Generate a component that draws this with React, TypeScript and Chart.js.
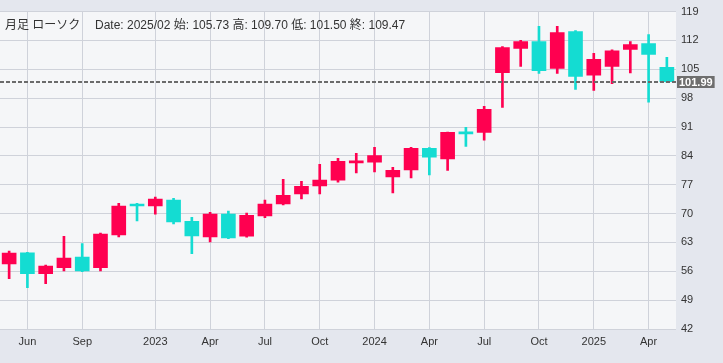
import { useEffect, useRef } from 'react';
import { Chart, registerables } from 'chart.js';

Chart.register(...registerables);

const categories = [
  '2022/05', '2022/06', '2022/07', '2022/08', '2022/09', '2022/10', '2022/11', '2022/12',
  '2023/01', '2023/02', '2023/03', '2023/04', '2023/05', '2023/06', '2023/07', '2023/08',
  '2023/09', '2023/10', '2023/11', '2023/12', '2024/01', '2024/02', '2024/03', '2024/04',
  '2024/05', '2024/06', '2024/07', '2024/08', '2024/09', '2024/10', '2024/11', '2024/12',
  '2025/01', '2025/02', '2025/03', '2025/04', '2025/05',
];

const openValues = [
  57.8, 60.5, 55.4, 56.85, 59.45, 56.85, 64.8, 72.3,
  71.85, 73.25, 68.15, 64.35, 69.85, 64.5, 69.45, 72.35,
  74.75, 76.7, 78.1, 82.3, 82.5, 78.9, 80.6, 85.8,
  83.25, 89.6, 89.7, 104.2, 110.05, 111.75, 105.2, 114.15,
  103.6, 105.73, 109.8, 111.25, 105.45,
];
const highValues = [
  60.9, 60.6, 57.5, 64.5, 62.75, 65.3, 72.5, 72.5,
  74.0, 73.7, 69.1, 70.3, 70.6, 70.1, 73.25, 78.3,
  77.85, 81.95, 83.4, 84.6, 86.1, 81.2, 86.1, 86.0,
  89.8, 90.9, 96.0, 110.5, 112.0, 115.4, 115.4, 114.4,
  108.85, 109.7, 111.75, 113.4, 107.9,
];
const lowValues = [
  54.2, 52.0, 53.0, 56.1, 55.9, 56.1, 64.35, 68.2,
  69.85, 67.5, 60.25, 63.15, 63.9, 64.3, 69.0, 72.1,
  73.55, 74.75, 77.6, 79.85, 80.1, 75.0, 78.65, 79.4,
  80.5, 86.3, 87.8, 95.75, 105.7, 104.0, 104.0, 100.1,
  99.9, 101.5, 104.1, 97.05, 101.85,
];
const closeValues = [
  60.4, 55.4, 57.25, 59.2, 56.1, 65.0, 71.8, 71.85,
  73.5, 68.0, 64.6, 69.85, 64.1, 69.6, 72.3, 74.45,
  76.6, 78.1, 82.7, 82.4, 84.1, 80.5, 85.8, 83.7,
  89.7, 89.35, 95.3, 110.3, 111.75, 104.7, 113.9, 103.25,
  107.4, 109.47, 111.0, 108.6, 101.99,
];

const tickCategories = ['2022/06', '2022/09', '2023/01', '2023/04', '2023/07', '2023/10', '2024/01', '2024/04', '2024/07', '2024/10', '2025/01', '2025/04'];
const tickTexts = ['Jun', 'Sep', '2023', 'Apr', 'Jul', 'Oct', '2024', 'Apr', 'Jul', 'Oct', '2025', 'Apr'];

const yMin = 42;
const yMax = 119;
const yStep = 7;
const lastPrice = 101.99;

const titleLeft = '月足 ローソク';
const titleRight = 'Date: 2025/02 始: 105.73 高: 109.70 低: 101.50 終: 109.47';

const UP = '#ff0050';
const DOWN = '#14dcd2';
const OUTER_BG = '#e4e7ee';
const PLOT_BG = '#f5f6f8';
const GRID = '#cfd2da';
const TEXT = '#333333';
const FONT = '"Liberation Sans", Arial, "Noto Sans CJK JP", sans-serif';

const bgPlugin = {
  id: 'bgPlugin',
  beforeDraw(chart: any) {
    const { ctx, chartArea: a } = chart;
    ctx.save();
    ctx.fillStyle = OUTER_BG;
    ctx.fillRect(0, 0, chart.width, chart.height);
    ctx.fillStyle = PLOT_BG;
    ctx.fillRect(a.left, a.top, a.right - a.left, a.bottom - a.top);
    ctx.restore();
  },
};

const pricePlugin = {
  id: 'pricePlugin',
  afterDatasetsDraw(chart: any) {
    const { ctx, chartArea: a } = chart;
    const y = Math.round(chart.scales.y.getPixelForValue(lastPrice));
    ctx.save();
    ctx.strokeStyle = '#6b6b6b';
    ctx.lineWidth = 2;
    ctx.setLineDash([4, 2]);
    ctx.beginPath();
    ctx.moveTo(a.left, y);
    ctx.lineTo(a.right, y);
    ctx.stroke();
    ctx.restore();
  },
  afterDraw(chart: any) {
    const { ctx, chartArea: a } = chart;
    const y = Math.round(chart.scales.y.getPixelForValue(lastPrice));
    ctx.save();
    ctx.font = `bold 11px ${FONT}`;
    const text = lastPrice.toFixed(2);
    const w = ctx.measureText(text).width + 4;
    ctx.fillStyle = '#6e6e6e';
    ctx.fillRect(a.right + 1, y - 6, w, 12);
    ctx.fillStyle = '#ffffff';
    ctx.textBaseline = 'middle';
    ctx.textAlign = 'left';
    ctx.fillText(text, a.right + 3, y + 0.5);
    ctx.restore();
  },
};

export default function App() {
  const canvasRef = useRef<HTMLCanvasElement | null>(null);

  useEffect(() => {
    document.body.style.margin = '0';
    const canvas = canvasRef.current;
    if (!canvas) return;
    const colors = closeValues.map((c, i) => (c >= openValues[i] ? UP : DOWN));
    const chart = new Chart(canvas, {
      type: 'bar',
      data: {
        labels: categories,
        datasets: [
          {
            label: 'body',
            data: categories.map((_, i) => [openValues[i], closeValues[i]]) as any,
            backgroundColor: colors,
            borderWidth: 0,
            barThickness: 14,
            minBarLength: 2,
            grouped: false,
            order: 1,
          } as any,
          {
            label: 'wick',
            data: categories.map((_, i) => [lowValues[i], highValues[i]]) as any,
            backgroundColor: colors,
            borderWidth: 0,
            barThickness: 2,
            grouped: false,
            order: 2,
          } as any,
        ],
      },
      options: {
        responsive: false,
        animation: false,
        devicePixelRatio: 1,
        layout: { padding: { top: 10, left: 0, right: 0, bottom: 0 } },
        plugins: {
          legend: { display: false },
          tooltip: { enabled: false },
          title: { display: false },
        },
        scales: {
          x: {
            type: 'category',
            offset: true,
            border: { display: false },
            grid: {
              offset: false,
              drawTicks: false,
              color: (ctx: any) => {
                const lbl = categories[ctx.index];
                return tickCategories.includes(lbl) ? GRID : 'rgba(0,0,0,0)';
              },
              lineWidth: 1,
            },
            ticks: {
              autoSkip: false,
              maxRotation: 0,
              padding: 6,
              color: TEXT,
              font: { family: FONT, size: 11 },
              callback: (_v: any, index: number) => {
                const k = tickCategories.indexOf(categories[index]);
                return k >= 0 ? tickTexts[k] : '';
              },
            },
            afterFit: (scale: any) => {
              scale.height = 34;
            },
          },
          y: {
            position: 'right',
            min: yMin,
            max: yMax,
            border: { display: false },
            grid: { color: GRID, drawTicks: false, lineWidth: 1 },
            ticks: {
              stepSize: yStep,
              padding: 5,
              color: TEXT,
              font: { family: FONT, size: 11 },
            },
            afterFit: (scale: any) => {
              scale.width = 47;
            },
          },
        },
      } as any,
      plugins: [bgPlugin, pricePlugin],
    });
    return () => chart.destroy();
  }, []);

  return (
    <div style={{ position: 'relative', width: 723, height: 363 }}>
      <canvas ref={canvasRef} width={723} height={363} style={{ display: 'block', width: 723, height: 363 }} />
      <span style={{ position: 'absolute', left: 5, top: 15, font: `12px ${FONT}`, color: TEXT, whiteSpace: 'pre' }}>{titleLeft}</span>
      <span style={{ position: 'absolute', left: 95, top: 15, font: `12px ${FONT}`, color: TEXT, whiteSpace: 'pre' }}>{titleRight}</span>
    </div>
  );
}
